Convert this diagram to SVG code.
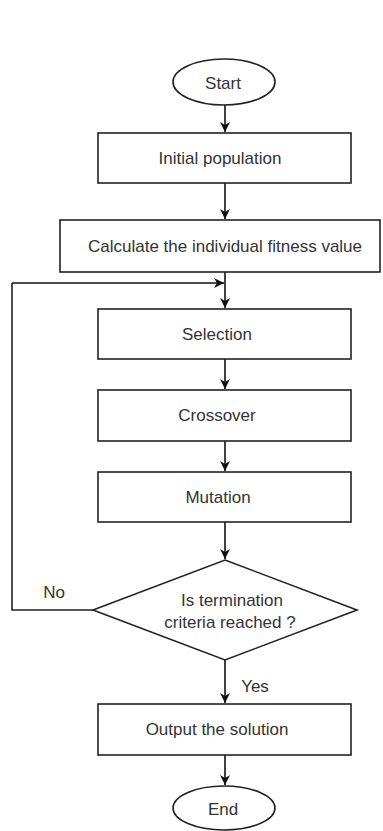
<svg xmlns="http://www.w3.org/2000/svg" width="383" height="831" viewBox="0 0 383 831">
<defs>
<marker id="ah" viewBox="0 0 10 10" refX="10" refY="5" markerWidth="10" markerHeight="10" markerUnits="userSpaceOnUse" orient="auto">
<path d="M0,0 L10,5 L0,10 L3,5 Z" fill="#111"/>
</marker>
</defs>
<style>
.s{fill:#fff;stroke:#222;stroke-width:1.6}
.t{font-family:"Liberation Sans",Arial,sans-serif;font-size:17px;fill:#333;text-anchor:middle}
.c{fill:none;stroke:#111;stroke-width:1.6;marker-end:url(#ah)}
.l{fill:none;stroke:#222;stroke-width:1.6}
</style>
<rect width="383" height="831" fill="#fff"/>
<g id="connectors">
<path class="c" d="M225,105 V132"/>
<path class="c" d="M225,183 V219"/>
<path class="c" d="M225,272 V308"/>
<path class="l" d="M93,610 H12 V283"/>
<path class="c" d="M12,283 H224"/>
<path class="c" d="M225,359 V389"/>
<path class="c" d="M225,441 V471"/>
<path class="c" d="M225,522 V559"/>
<path class="c" d="M225,660 V703"/>
<path class="c" d="M225,755 V785"/>
<text class="t" x="54" y="598">No</text>
<text class="t" x="255" y="692">Yes</text>
</g>
<g id="start"><ellipse class="s" cx="224" cy="82" rx="51" ry="23"/><text class="t" x="223" y="89">Start</text></g>
<g id="init"><rect class="s" x="98" y="133" width="253" height="50"/><text class="t" x="220" y="164">Initial population</text></g>
<g id="fitness"><rect class="s" x="60" y="220" width="320" height="52"/><text class="t" x="225" y="252">Calculate the individual fitness value</text></g>
<g id="selection"><rect class="s" x="98" y="309" width="253" height="50"/><text class="t" x="217" y="340">Selection</text></g>
<g id="crossover"><rect class="s" x="98" y="390" width="253" height="51"/><text class="t" x="217" y="421">Crossover</text></g>
<g id="mutation"><rect class="s" x="98" y="472" width="253" height="50"/><text class="t" x="218" y="503">Mutation</text></g>
<g id="decision"><polygon class="s" points="225,560 357,610 225,660 93,610"/><text class="t" x="232" y="606">Is termination</text><text class="t" x="230" y="628">criteria reached ?</text></g>
<g id="output"><rect class="s" x="98" y="704" width="253" height="51"/><text class="t" x="217" y="735">Output the solution</text></g>
<g id="end"><ellipse class="s" cx="224" cy="808" rx="51" ry="22"/><text class="t" x="223" y="815">End</text></g>
</svg>
